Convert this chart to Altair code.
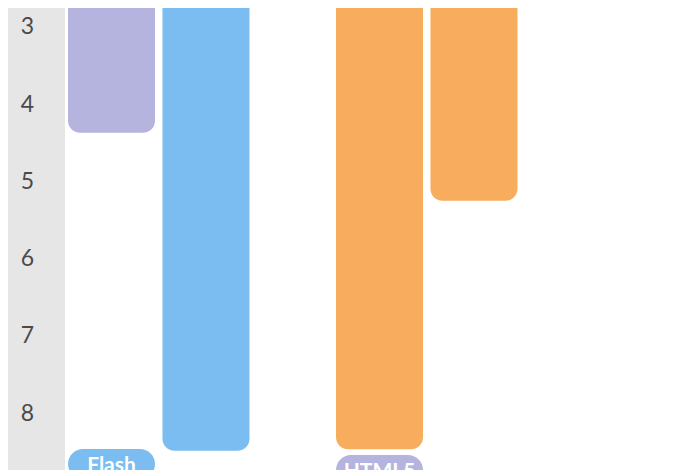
import altair as alt
import pandas as pd

# ---- data ----
groups = ["Flash", "Flash", "HTML5", "HTML5"]
series = ["A", "B", "A", "B"]
values = [4.37, 8.49, 8.47, 5.25]
bar_colors = ["#b4b4de", "#7bbdf0", "#f8ac5e", "#f8ac5e"]

pill_groups = ["Flash", "HTML5"]
pill_series = ["A", "A"]
pill_labels = ["Flash", "HTML5"]
pill_colors = ["#7bbdf0", "#b4b4de"]
pill_top = [8.466, 8.544]
pill_size = 0.39

tick_values = [3, 4, 5, 6, 7, 8]

bars = pd.DataFrame({"group": groups, "series": series, "value": values, "color": bar_colors})
pills = pd.DataFrame({
    "group": pill_groups, "series": pill_series, "label": pill_labels,
    "color": pill_colors, "top": pill_top,
})
pills["bottom"] = pills["top"] + pill_size
pills["mid"] = pills["top"] + pill_size / 2

W, H = 627, 462
yscale = alt.Scale(domain=[2.754, 8.738], reverse=True, nice=False, zero=False)
xscale = alt.Scale(domain=pill_groups, paddingInner=0.3228, paddingOuter=0.3312, align=0.0169)
xoff = alt.XOffset("series:N", scale=alt.Scale(domain=["A", "B"], paddingInner=0.079, paddingOuter=0))

yaxis = alt.Axis(values=tick_values, format="d", ticks=False, domain=False, grid=False, title=None,
                 labelFontSize=23, labelFont="Lato", labelColor="#4a4a4a",
                 labelAlign="center", labelBaseline="middle", labelPadding=38,
                 labelOverlap=False, labelFlush=False, zindex=1)

bar_layer = alt.Chart(bars).mark_bar(cornerRadius=12, clip=True).encode(
    x=alt.X("group:N", scale=xscale, axis=None),
    xOffset=xoff,
    y=alt.Y("value:Q", scale=yscale, axis=yaxis),
    y2=alt.datum(0),
    color=alt.Color("color:N", scale=None),
)

pill_layer = alt.Chart(pills).mark_bar(cornerRadius=15, clip=True).encode(
    x=alt.X("group:N", scale=xscale, axis=None),
    xOffset=xoff,
    y=alt.Y("top:Q", scale=yscale),
    y2="bottom:Q",
    color=alt.Color("color:N", scale=None),
)

pill_text = alt.Chart(pills).mark_text(
    font="Lato", fontSize=21, fontWeight="bold", color="white",
    align="center", baseline="middle", clip=True, dy=2,
).encode(
    x=alt.X("group:N", scale=xscale, axis=None),
    xOffset=xoff,
    y=alt.Y("mid:Q", scale=yscale),
    text="label:N",
)

chart = alt.layer(bar_layer, pill_layer, pill_text).properties(
    width=W, height=H,
    background="#e6e6e6",
    padding={"left": 57, "top": 0, "right": 0, "bottom": 0},
    autosize=alt.AutoSizeParams(type="none"),
).configure_view(fill="white", strokeWidth=0)

chart.save("out.html", embed_options={"renderer": "svg", "actions": False})
